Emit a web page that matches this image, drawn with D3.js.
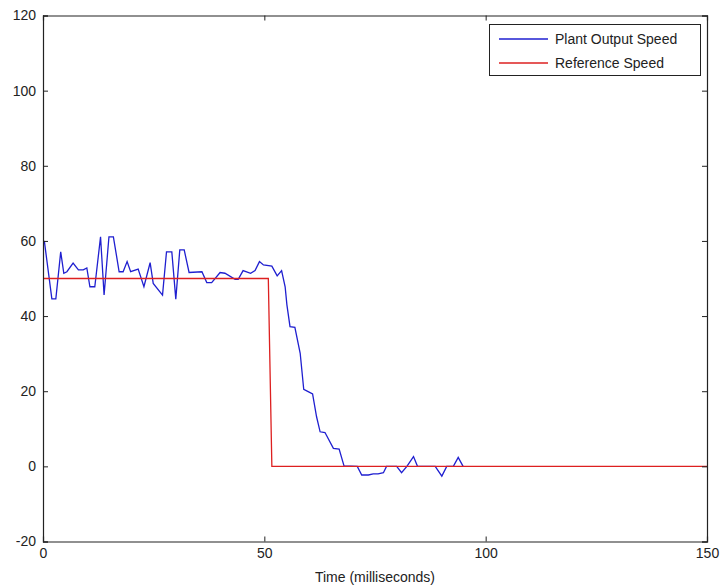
<!DOCTYPE html>
<html lang="en">
    <head>
        <meta charset="utf-8">
        <title>Plant Output Speed</title>
        <script type="text/javascript" src="https://cdn.jsdelivr.net/npm/d3@7"></script>
        <style>
            body { margin: 0; background: #fff; }
            text { font-family: "Liberation Sans", Arial, sans-serif; }
        </style>
    </head>
    <body>
        <script type="text/javascript">
        // plant output speed
        var plantTime = [0.3, 2.0, 2.9, 4.0, 4.7, 5.4, 6.8, 8.0, 9.1, 9.9, 10.6, 11.7, 13.0, 13.8, 14.9, 15.9,
            17.2, 18.1, 19.0, 19.8, 21.5, 22.8, 24.2, 24.9, 27.0, 27.9, 29.1, 30.0, 30.9, 31.9, 33.0, 35.9,
            37.0, 38.1, 40.0, 41.1, 43.4, 44.1, 45.2, 46.9, 47.9, 48.9, 49.8, 51.7, 52.9, 53.9, 54.7, 55.1,
            55.8, 56.9, 58.1, 58.9, 59.9, 60.9, 61.8, 62.6, 63.7, 65.6, 66.9, 68.0, 71.0, 72.0, 73.5, 74.6,
            75.7, 76.9, 77.6, 79.9, 81.0, 82.2, 83.7, 84.6, 88.6, 90.1, 91.2, 92.7, 93.8, 94.9];
        var plantSpeed = [60.0, 44.6, 44.6, 57.1, 51.4, 51.8, 54.1, 52.3, 52.3, 52.8, 47.8, 47.8, 61.1, 45.6, 61.1, 61.1,
            51.8, 51.8, 54.5, 51.8, 52.5, 47.8, 54.2, 48.7, 45.6, 57.1, 57.1, 44.5, 57.6, 57.6, 51.6, 51.8,
            48.9, 48.9, 51.6, 51.4, 49.8, 49.8, 52.1, 51.4, 52.1, 54.5, 53.6, 53.3, 50.7, 52.1, 47.8, 43.0,
            37.2, 37.0, 30.1, 20.5, 19.9, 19.3, 13.2, 9.2, 9.0, 4.8, 4.6, 0.1, 0.0, -2.3, -2.3, -2.0,
            -2.0, -1.7, 0.0, 0.0, -1.7, 0.0, 2.6, 0.0, 0.0, -2.6, 0.0, 0.0, 2.4, 0.0];
        // reference speed
        var refTime = [0, 50.9, 51.7, 150];
        var refSpeed = [50, 50, 0, 0];

        var xTicks = [0, 50, 100, 150];
        var yTicks = [-20, 0, 20, 40, 60, 80, 100, 120];
        var seriesNames = ["Plant Output Speed", "Reference Speed"];
        var seriesColors = ["#1f1fd0", "#dd2020"];

        var w = 720;
        var h = 588;
        var padL = 43, padR = 707, padT = 15.5, padB = 541.5;

        var x = d3.scaleLinear().domain([0, 150]).range([padL, padR]);
        var y = d3.scaleLinear().domain([-20, 120]).range([padB, padT]);

        var svg = d3.select("body")
                    .append("svg")
                    .attr("width", w)
                    .attr("height", h);

        var plant = plantTime.map(function(t, i) { return [t, plantSpeed[i]]; });
        var ref = refTime.map(function(t, i) { return [t, refSpeed[i]]; });

        var line = d3.line()
            .x(function(d) { return x(d[0]); })
            .y(function(d) { return y(d[1]); });

        svg.append("path")
            .datum(plant)
            .attr("d", line)
            .attr("fill", "none")
            .attr("stroke", seriesColors[0])
            .attr("stroke-width", 1.3);

        svg.append("path")
            .datum(ref)
            .attr("d", line)
            .attr("fill", "none")
            .attr("stroke", seriesColors[1])
            .attr("stroke-width", 1.3);

        // axes, MATLAB style: ticks inside, on all four sides
        var tickLen = 5;
        var plain = function(d) { return String(d); };
        svg.append("g")
            .attr("transform", "translate(0," + padB + ")")
            .call(d3.axisBottom(x).tickValues(xTicks).tickSize(-tickLen).tickPadding(7).tickFormat(plain));
        svg.append("g")
            .attr("transform", "translate(0," + padT + ")")
            .call(d3.axisTop(x).tickValues(xTicks).tickSize(-tickLen).tickFormat(""));
        svg.append("g")
            .attr("transform", "translate(" + padL + ",0)")
            .call(d3.axisLeft(y).tickValues(yTicks).tickSize(-tickLen).tickPadding(7).tickFormat(plain));
        svg.append("g")
            .attr("transform", "translate(" + padR + ",0)")
            .call(d3.axisRight(y).tickValues(yTicks).tickSize(-tickLen).tickFormat(""));

        svg.selectAll(".domain")
            .attr("stroke", "#222")
            .attr("stroke-width", 1.2);
        svg.selectAll(".tick line")
            .attr("stroke", "#222");
        svg.selectAll(".tick text")
            .attr("font-family", "Liberation Sans, Arial, sans-serif")
            .attr("font-size", "14px")
            .attr("fill", "#222");

        svg.append("text")
            .attr("x", (padL + padR) / 2)
            .attr("y", 582)
            .attr("text-anchor", "middle")
            .attr("font-size", "14px")
            .attr("fill", "#222")
            .text("Time (milliseconds)");

        // legend
        var legend = svg.append("g");
        legend.append("rect")
            .attr("x", 489.5)
            .attr("y", 24.5)
            .attr("width", 211)
            .attr("height", 51)
            .attr("fill", "white")
            .attr("stroke", "#222");
        legend.selectAll("line")
            .data(seriesNames)
            .enter()
            .append("line")
            .attr("x1", 499)
            .attr("x2", 548)
            .attr("y1", function(d, i) { return 39 + i * 24; })
            .attr("y2", function(d, i) { return 39 + i * 24; })
            .attr("stroke", function(d, i) { return seriesColors[i]; })
            .attr("stroke-width", 1.3);
        legend.selectAll("text")
            .data(seriesNames)
            .enter()
            .append("text")
            .attr("x", 555)
            .attr("y", function(d, i) { return 44 + i * 24; })
            .attr("font-size", "14px")
            .attr("fill", "#222")
            .text(function(d) { return d; });
        </script>
    </body>
</html>
